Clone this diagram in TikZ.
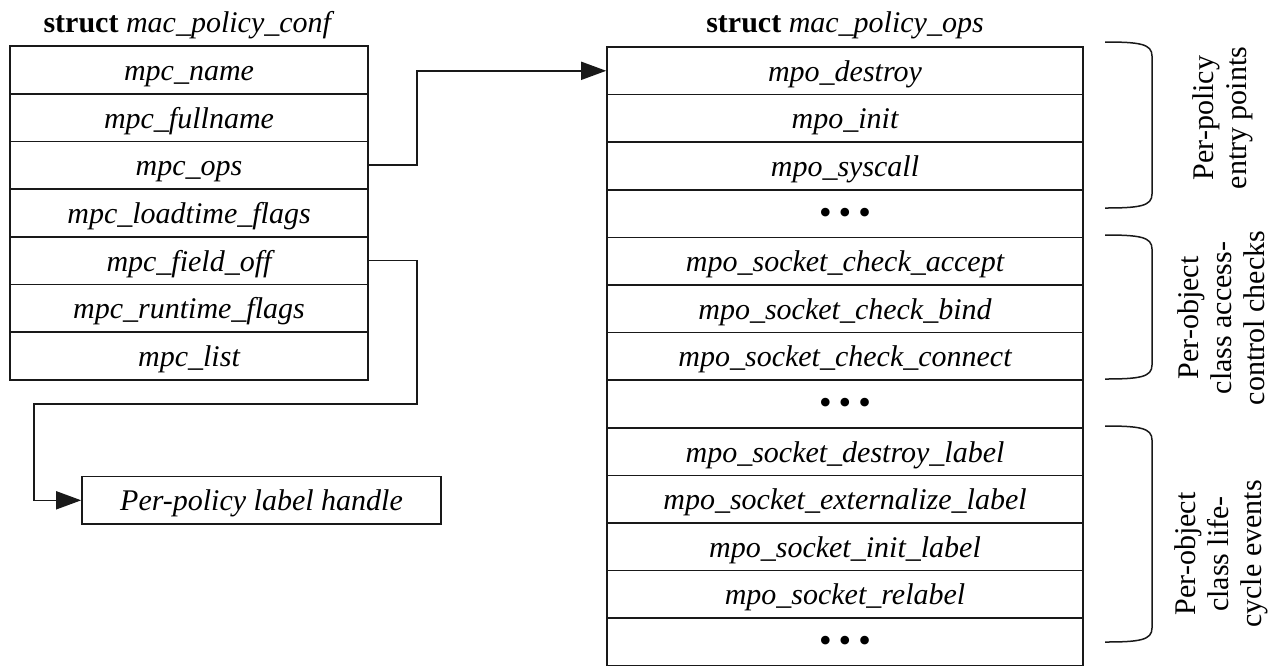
\documentclass[tikz,border=0pt]{standalone}
\usepackage{fontspec}
\setmainfont{Liberation Serif}
\usepackage{tikz}
\usetikzlibrary{arrows.meta}
\definecolor{inkline}{RGB}{25, 25, 25}
\newcommand{\threedots}{{\fontsize{36}{36}\selectfont\textbullet\hspace{7pt}\textbullet\hspace{7pt}\textbullet}}

\begin{document}
\begin{tikzpicture}[x=1pt, y=-1pt,
        slot/.style={draw=inkline, line width=1.6pt, inner sep=0pt,
                     minimum width=358pt, minimum height=47.7pt,
                     text height=27pt, text depth=6pt,
                     font=\fontsize{30}{36}\selectfont\itshape},
        opslot/.style={slot, minimum width=476pt, minimum height=47.6pt},
        title/.style={anchor=base, font=\fontsize{30}{36}\selectfont},
        pointer/.style={draw=inkline, line width=1.6pt, -{Triangle[length=25pt, width=18pt]}},
        bracket/.style={draw=inkline, line width=1.5pt},
        side/.style={rotate=90, align=center, font=\fontsize{30}{33}\selectfont}]
            \useasboundingbox (0.00, 0.00) rectangle (1276.00, 665.00);
            \node[title] (conftitle) at ( 189.00,  32.00) {\textbf{struct} \textit{mac\_policy\_conf}};
            \node[title] (opstitle)  at ( 845.00,  32.00) {\textbf{struct} \textit{mac\_policy\_ops}};
            \node[slot] (name)     at ( 189.00,  69.85) {mpc\_name};
            \node[slot] (fullname) at ( 189.00, 117.55) {mpc\_fullname};
            \node[slot] (ops)      at ( 189.00, 165.25) {mpc\_ops};
            \node[slot] (loadtime) at ( 189.00, 212.95) {mpc\_loadtime\_flags};
            \node[slot] (fieldoff) at ( 189.00, 260.65) {mpc\_field\_off};
            \node[slot] (runtime)  at ( 189.00, 308.35) {mpc\_runtime\_flags};
            \node[slot] (list)     at ( 189.00, 356.05) {mpc\_list};
            \node[slot, minimum width=359pt, minimum height=47.3pt] (handle) at ( 261.50, 500.30) {Per-policy label handle};
            \node[opslot] (destroy)     at ( 845.00,  70.80) {mpo\_destroy};
            \node[opslot] (init)        at ( 845.00, 118.40) {mpo\_init};
            \node[opslot] (syscall)     at ( 845.00, 166.00) {mpo\_syscall};
            \node[opslot] (moreA)       at ( 845.00, 213.60) {\upshape\threedots};
            \node[opslot] (accept)      at ( 845.00, 261.20) {mpo\_socket\_check\_accept};
            \node[opslot] (bind)        at ( 845.00, 308.80) {mpo\_socket\_check\_bind};
            \node[opslot] (connect)     at ( 845.00, 356.40) {mpo\_socket\_check\_connect};
            \node[opslot] (moreB)       at ( 845.00, 404.00) {\upshape\threedots};
            \node[opslot] (destroylbl)  at ( 845.00, 451.60) {mpo\_socket\_destroy\_label};
            \node[opslot] (externlbl)   at ( 845.00, 499.20) {mpo\_socket\_externalize\_label};
            \node[opslot] (initlbl)     at ( 845.00, 546.80) {mpo\_socket\_init\_label};
            \node[opslot] (relabel)     at ( 845.00, 594.40) {mpo\_socket\_relabel};
            \node[opslot] (moreC)       at ( 845.00, 642.00) {\upshape\threedots};
            \coordinate (turn) at (  34.00, 404.00);
            \draw[pointer] (ops.east) -- ++(48.00, 0.00) |- (destroy.west);
            \draw[pointer] (fieldoff.east) -- ++(48.00, 0.00) |- (turn) |- (handle.west);
            \draw[bracket] (1105.00,  42.00) .. controls (1140.00,  42.00) and (1152.00,  44.00) .. (1152.00,  56.00)
                           -- (1152.00, 194.00) .. controls (1152.00, 206.00) and (1140.00, 208.00) .. (1105.00, 208.00);
            \draw[bracket] (1105.00, 235.00) .. controls (1140.00, 235.00) and (1152.00, 237.00) .. (1152.00, 249.00)
                           -- (1152.00, 365.00) .. controls (1152.00, 377.00) and (1140.00, 379.00) .. (1105.00, 379.00);
            \draw[bracket] (1105.00, 426.00) .. controls (1140.00, 426.00) and (1152.00, 428.00) .. (1152.00, 440.00)
                           -- (1152.00, 628.00) .. controls (1152.00, 640.00) and (1140.00, 642.00) .. (1105.00, 642.00);
            \node[side] (entrytext)  at (1223.00, 118.00) {Per-policy\\entry points};
            \node[side] (checktext)  at (1221.00, 318.00) {Per-object\\class access-\\control checks};
            \node[side] (lifetext)   at (1221.00, 554.00) {Per-object\\class life-\\cycle events};
        \end{tikzpicture}
\end{document}
